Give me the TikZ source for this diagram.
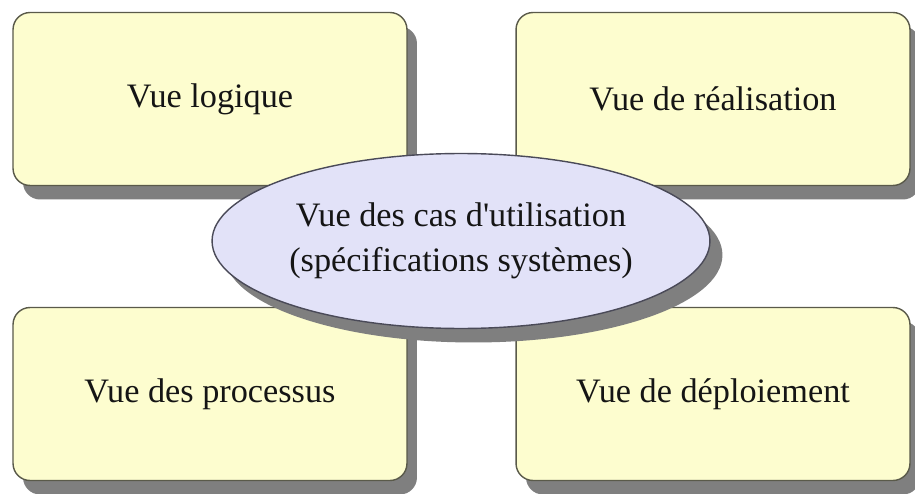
\documentclass[tikz,border=0pt]{standalone}
\usepackage{fontspec}
\setmainfont{Liberation Serif}
\usetikzlibrary{shapes.geometric,shadows}
\definecolor{boxfill}{HTML}{FDFDCF}
\definecolor{boxline}{HTML}{5A5A4A}
\definecolor{ellfill}{HTML}{E2E2F8}
\definecolor{ellline}{HTML}{4A4A58}
\definecolor{shadowgray}{HTML}{7F7F7F}
\definecolor{txt}{HTML}{151515}
\begin{document}
\begin{tikzpicture}[x=0.02cm,y=-0.02cm,
  viewbox/.style={draw=boxline, line width=0.8pt, fill=boxfill, rounded corners=0.34cm,
    minimum width=7.88cm, minimum height=3.46cm, inner sep=0pt, text=txt,
    font=\fontsize{19.5}{25.5}\selectfont,
    drop shadow={shadow xshift=0.2cm, shadow yshift=-0.28cm, fill=shadowgray, opacity=1}},
  caseell/.style={ellipse, draw=ellline, line width=0.8pt, fill=ellfill,
    minimum width=9.96cm, minimum height=3.5cm, inner sep=0pt, align=center, text=txt,
    font=\fontsize{19.5}{25.5}\selectfont,
    drop shadow={shadow xshift=0.25cm, shadow yshift=-0.28cm, fill=shadowgray, opacity=1}}]
\useasboundingbox (0,0) rectangle (915,493);
\fill[white] (0,0) rectangle (915,493);
\node[viewbox] (logique) at (210,99) {Vue logique};
\node[viewbox] (realisation) at (713,99) {Vue de réalisation};
\node[viewbox] (processus) at (210,394) {Vue des processus};
\node[viewbox] (deploiement) at (713,394) {Vue de déploiement};
\node[caseell] (cas) at (461,241) {Vue des cas d\textquotesingle utilisation\\(spécifications systèmes)};
\end{tikzpicture}
\end{document}
